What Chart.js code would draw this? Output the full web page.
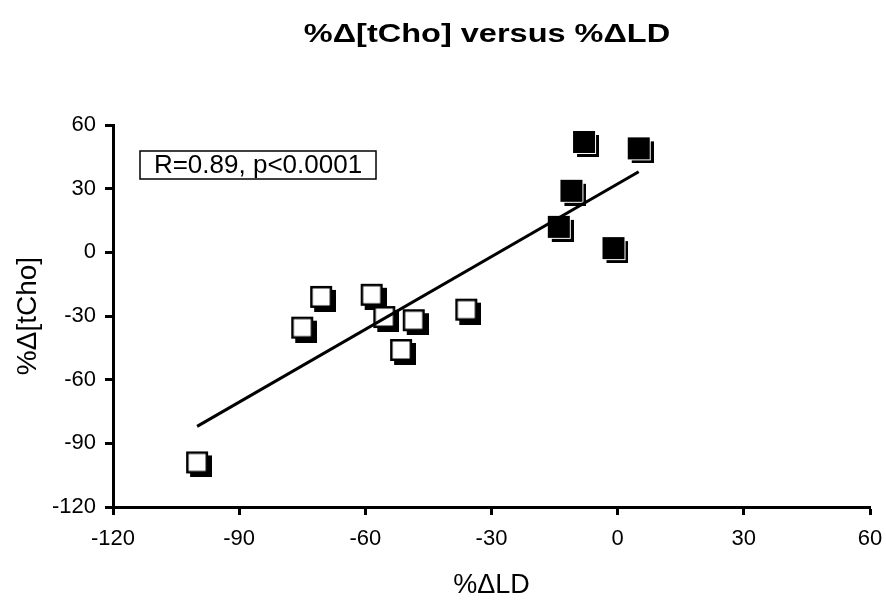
<!DOCTYPE html>
<html><head><meta charset="utf-8">
<script src="https://cdn.jsdelivr.net/npm/chart.js@4.4.0/dist/chart.umd.min.js"></script>
<style>html,body{margin:0;padding:0;background:#fff;} #wrap{width:886px;height:603px;position:relative}</style>
</head><body><div id="wrap"><canvas id="c" width="886" height="603"></canvas></div>
<script>
const chartTitle = '%Δ[tCho] versus %ΔLD';
const xAxisTitle = '%ΔLD';
const yAxisTitle = '%Δ[tCho]';
const statText = 'R=0.89, p<0.0001';
const openX = [-100, -75, -70.5, -58.5, -55.5, -51.5, -48.5, -36];
const openY = [-99, -35.5, -21, -20, -30.5, -46, -32, -27];
const filledX = [-8, 5, -11, -14, -1];
const filledY = [52, 49, 29, 12, 2];
const fitX = [-100, 5];
const fitY = [-82, 38];
const xTicks = [-120, -90, -60, -30, 0, 30, 60];
const yTicks = [-120, -90, -60, -30, 0, 30, 60];

const FONT = "'Liberation Sans', Arial, sans-serif";
const toPts = (xs, ys) => xs.map((x, i) => ({x, y: ys[i]}));

function makeMarker(filled) {
  const cv = document.createElement('canvas');
  cv.width = 30; cv.height = 30;
  const g = cv.getContext('2d');
  g.fillStyle = '#000'; g.fillRect(8, 8, 22, 22);          // drop shadow
  if (filled) {
    g.fillStyle = '#fff'; g.fillRect(4, 4, 23, 23);
    g.fillStyle = '#000'; g.fillRect(4, 4, 22, 22);
  } else {
    g.fillStyle = '#fff'; g.fillRect(4, 4, 22, 22);
    g.strokeStyle = '#000'; g.lineWidth = 2.5; g.strokeRect(5.25, 5.25, 19.5, 19.5);
  }
  return cv;
}
const openMarker = makeMarker(false);
const filledMarker = makeMarker(true);

const textPlugin = {
  id: 'texts',
  afterDraw(chart) {
    const c = chart.ctx, a = chart.chartArea;
    c.save();
    c.fillStyle = '#000';
    c.font = 'bold 25px ' + FONT;
    c.textAlign = 'center'; c.textBaseline = 'middle';
    c.translate(487, 35); c.scale(1.3, 1);
    c.fillText(chartTitle, 0, 0);
    c.restore();
    c.save();
    const bx = a.left + 27, by = a.top + 26, bw = 236, bh = 28;
    c.fillStyle = '#fff'; c.fillRect(bx, by, bw, bh);
    c.strokeStyle = '#000'; c.lineWidth = 1.5; c.strokeRect(bx, by, bw, bh);
    c.fillStyle = '#000'; c.font = '26px ' + FONT;
    c.textAlign = 'center'; c.textBaseline = 'middle';
    c.fillText(statText, bx + bw / 2, by + bh / 2 + 1);
    c.restore();
  }
};

new Chart(document.getElementById('c'), {
  type: 'scatter',
  data: {
    datasets: [
      { type: 'line', data: toPts(fitX, fitY), borderColor: '#000', borderWidth: 3,
        pointRadius: 0, fill: false, order: 0, clip: false },
      { data: toPts(openX, openY), pointStyle: openMarker, pointRadius: 15, pointHoverRadius: 15,
        order: 1, clip: false },
      { data: toPts(filledX, filledY), pointStyle: filledMarker, pointRadius: 15, pointHoverRadius: 15,
        order: 2, clip: false }
    ]
  },
  options: {
    responsive: false, animation: false, devicePixelRatio: 1,
    layout: { padding: { top: 125, right: 16, left: 0, bottom: 0 } },
    plugins: { legend: { display: false }, tooltip: { enabled: false }, title: { display: false } },
    scales: {
      x: {
        type: 'linear', min: -120, max: 60,
        afterBuildTicks: s => { s.ticks = xTicks.map(v => ({value: v})); },
        afterFit: s => { s.height = 96; s.paddingLeft = 0; s.paddingRight = 0; },
        border: { display: true, color: '#000', width: 3 },
        grid: { drawOnChartArea: false, drawTicks: true, tickLength: 8, tickWidth: 3, tickColor: '#000' },
        ticks: { color: '#000', font: { family: FONT, size: 22 }, padding: 11, maxRotation: 0 },
        title: { display: true, text: xAxisTitle, color: '#000', font: { family: FONT, size: 27 }, padding: { top: 0, bottom: 1 } }
      },
      y: {
        type: 'linear', min: -120, max: 60,
        afterBuildTicks: s => { s.ticks = yTicks.map(v => ({value: v})); },
        afterFit: s => { s.width = 113; },
        border: { display: true, color: '#000', width: 3 },
        grid: { drawOnChartArea: false, drawTicks: true, tickLength: 8, tickWidth: 3, tickColor: '#000' },
        ticks: { color: '#000', font: { family: FONT, size: 22 }, padding: 9 },
        title: { display: true, text: yAxisTitle, color: '#000', font: { family: FONT, size: 28 }, padding: { top: 11, bottom: 0 } }
      }
    }
  },
  plugins: [textPlugin]
});
</script></body></html>
